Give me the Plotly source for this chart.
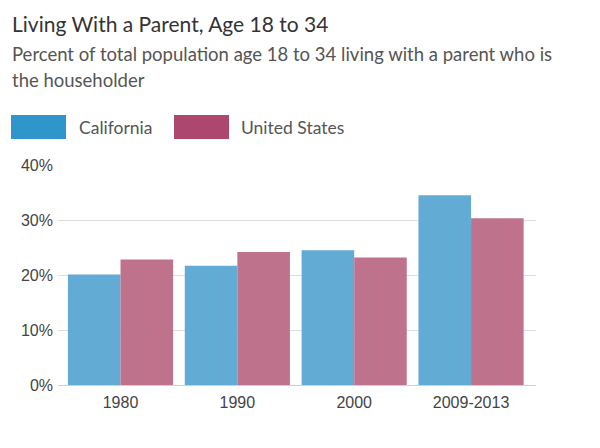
import plotly.graph_objects as go

categories = ["1980", "1990", "2000", "2009-2013"]
california = [20.1, 21.7, 24.5, 34.5]
united_states = [22.8, 24.2, 23.2, 30.3]
series_names = ["California", "United States"]
bar_colors = ["#62abd4", "#bf728b"]
legend_colors = ["#2f96cc", "#ad476e"]
y_ticks = [0, 10, 20, 30, 40]
y_tick_labels = ["0%", "10%", "20%", "30%", "40%"]

L, R, T, B = 58, 536, 165, 385
W, H = 600, 448

def px(x):
    return (x - L) / (R - L)

def py(y):
    return (B - y) / (B - T)

fig = go.Figure()
for name, vals, col in zip(series_names, [california, united_states], bar_colors):
    fig.add_trace(go.Bar(x=categories, y=vals, name=name, marker=dict(color=col, line=dict(width=0)),
                         showlegend=False))

ann = []
shapes = []
ann.append(dict(text="Living With a Parent, Age 18 to 34", x=px(10), y=py(23), xref="paper", yref="paper",
                xanchor="left", yanchor="middle", showarrow=False,
                font=dict(family="Lato", size=21, color="#333333")))
ann.append(dict(text="Percent of total population age 18 to 34 living with a parent who is", x=px(10), y=py(54),
                xref="paper", yref="paper", xanchor="left", yanchor="middle", showarrow=False,
                font=dict(family="Lato", size=18.5, color="#555555")))
ann.append(dict(text="the householder", x=px(10), y=py(80),
                xref="paper", yref="paper", xanchor="left", yanchor="middle", showarrow=False,
                font=dict(family="Lato", size=18.5, color="#555555")))
legend_x = [(11, 66, 77), (174, 229, 239)]
for (x0, x1, tx), name, col in zip(legend_x, series_names, legend_colors):
    shapes.append(dict(type="rect", xref="paper", yref="paper", x0=px(x0), x1=px(x1), y0=py(139), y1=py(115),
                       fillcolor=col, line=dict(width=0)))
    ann.append(dict(text=name, x=px(tx), y=py(127), xref="paper", yref="paper", xanchor="left",
                    yanchor="middle", showarrow=False, font=dict(family="Lato", size=17.5, color="#555555")))

fig.update_layout(
    width=W, height=H,
    margin=dict(l=L, r=W - R, t=T, b=H - B, pad=0),
    paper_bgcolor="white", plot_bgcolor="white",
    barmode="group", bargap=0.1, bargroupgap=0,
    annotations=ann, shapes=shapes,
    xaxis=dict(type="category", range=[-0.535, 3.556], showgrid=False, showline=False, ticks="",
               ticklabelstandoff=6,
               tickfont=dict(family="Liberation Sans, Arial", size=16, color="#444444")),
    yaxis=dict(range=[0, 40], tickmode="array", tickvals=y_ticks, ticktext=y_tick_labels,
               showgrid=True, gridcolor="#dddddd", ticklabelstandoff=4,
               gridwidth=1, zeroline=True, zerolinecolor="#d0d0d0", zerolinewidth=1, showline=False,
               tickfont=dict(family="Liberation Sans, Arial", size=16, color="#444444")),
)
fig.write_html("out.html")
